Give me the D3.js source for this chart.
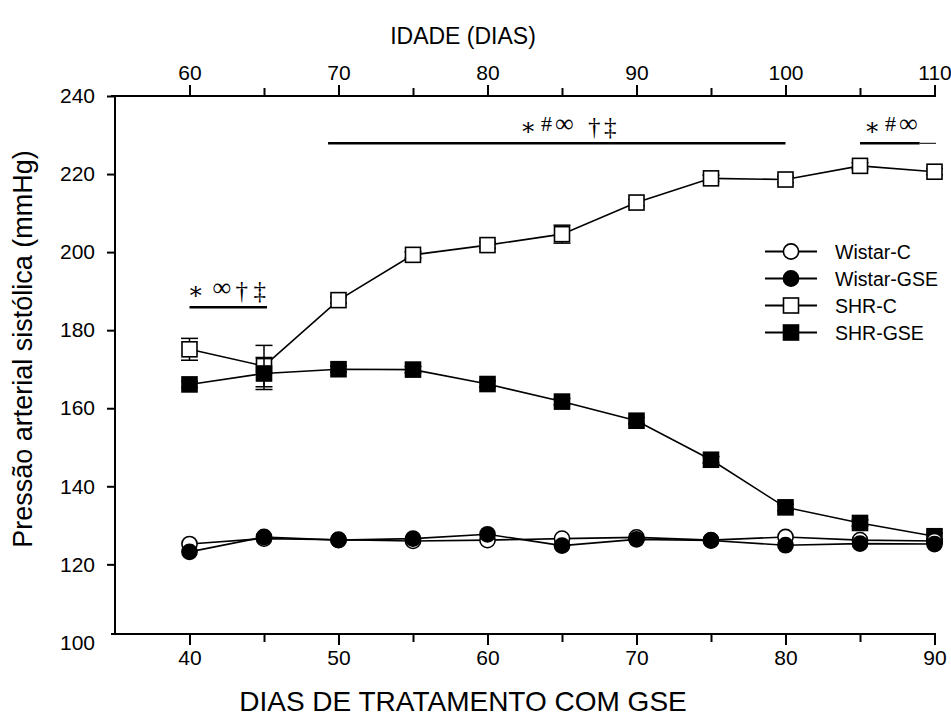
<!DOCTYPE html>
<html>
<head>
<meta charset="utf-8">
<script src="https://cdn.jsdelivr.net/npm/d3@7"></script>
<style>
  body { margin: 0; background: #fff; }
  svg { display: block; font-family: "Liberation Sans", Arial, sans-serif; }
  .tick text { font-size: 21px; fill: #000; }
  .tick line { stroke: #000; stroke-width: 2; }
  .sig { font-family: "Liberation Serif", "DejaVu Serif", serif; font-size: 24px; }
</style>
</head>
<body>
<svg id="chart" width="951" height="716"></svg>
<script>
// Data
const days = [40, 45, 50, 55, 60, 65, 70, 75, 80, 85, 90];
const wistarC   = [125.2, 126.6, 126.3, 126.0, 126.2, 126.6, 126.9, 126.2, 127.0, 126.2, 126.0];
const wistarGSE = [123.2, 127.0, 126.2, 126.6, 127.7, 124.8, 126.4, 126.1, 124.9, 125.3, 125.2];
const shrC      = [175.1, 170.8, 187.7, 199.3, 201.8, 204.6, 212.7, 218.9, 218.6, 222.1, 220.6];
const shrCErr   = [2.8, 5.3, 0.8, 0.8, 0.8, 2.3, 0.8, 0.8, 0.8, 0.8, 0.8];
const shrGSE    = [166.1, 168.9, 170.0, 169.9, 166.2, 161.7, 156.8, 146.8, 134.6, 130.6, 127.2];
const shrGSEErr = [0.8, 4.1, 0.8, 0.8, 0.8, 0.8, 0.8, 0.8, 0.8, 0.8, 0.8];

const bottomTicks = [40, 50, 60, 70, 80, 90];
const bottomMinor = [45, 55, 65, 75, 85];
const topTicks = [60, 70, 80, 90, 100, 110];
const topMinor = [65, 75, 85, 95, 105];
const yTicks = [100, 120, 140, 160, 180, 200, 220, 240];

const seriesNames = ["Wistar-C", "Wistar-GSE", "SHR-C", "SHR-GSE"];

// significance bars: start day, end day, symbols
const sigStart = [40, 49.3, 85];
const sigEnd = [45.2, 80, 89];
const sigSymbols = [["∗", "∞", "†", "‡"], ["∗", "#", "∞", "†", "‡"], ["∗", "#", "∞"]];

const svg = d3.select("#chart");

const x = d3.scaleLinear().domain([40, 90]).range([189.5, 934.5]);
const xTop = d3.scaleLinear().domain([60, 110]).range([189.5, 934.5]);
const y = d3.scaleLinear().domain([100, 240]).range([642.4, 96]);

const axisLeftX = 115, axisBottomY = 634, axisTopY = 96;

// axis lines
svg.append("line").attr("x1", axisLeftX).attr("x2", axisLeftX)
  .attr("y1", axisTopY).attr("y2", axisBottomY + 1)
  .attr("stroke", "#000").attr("stroke-width", 2);
svg.append("line").attr("x1", 111).attr("x2", 936)
  .attr("y1", axisBottomY).attr("y2", axisBottomY)
  .attr("stroke", "#000").attr("stroke-width", 2.2);
svg.append("line").attr("x1", 111).attr("x2", 936)
  .attr("y1", axisTopY).attr("y2", axisTopY)
  .attr("stroke", "#000").attr("stroke-width", 2.2);

// bottom axis
svg.append("g").attr("transform", `translate(0,${axisBottomY})`)
  .call(d3.axisBottom(x).tickValues(bottomTicks).tickSize(11).tickPadding(5));
svg.append("g").attr("transform", `translate(0,${axisBottomY})`)
  .call(d3.axisBottom(x).tickValues(bottomMinor).tickSize(8).tickFormat(""));

// top axis
svg.append("g").attr("transform", `translate(0,${axisTopY})`)
  .call(d3.axisTop(xTop).tickValues(topTicks).tickSize(11).tickPadding(5));
svg.append("g").attr("transform", `translate(0,${axisTopY})`)
  .call(d3.axisTop(xTop).tickValues(topMinor).tickSize(8).tickFormat(""));

// left axis
const gl = svg.append("g").attr("transform", `translate(${axisLeftX},0)`)
  .call(d3.axisLeft(y).tickValues(yTicks).tickSize(8).tickPadding(12));
gl.selectAll(".tick").filter(d => d === 100).select("line").remove();

svg.selectAll(".domain").remove();
svg.selectAll(".tick text").attr("font-family", null).attr("font-size", null);

// titles
svg.append("text").attr("x", 463).attr("y", 44).attr("text-anchor", "middle")
  .attr("font-size", 23).text("IDADE (DIAS)");
svg.append("text").attr("x", 463).attr("y", 711).attr("text-anchor", "middle")
  .attr("font-size", 28).text("DIAS DE TRATAMENTO COM GSE");
svg.append("text").attr("transform", "translate(32,349) rotate(-90)")
  .attr("text-anchor", "middle").attr("font-size", 27)
  .text("Pressão arterial sistólica (mmHg)");

// lines
const line = d3.line().x((d, i) => x(days[i])).y(d => y(d));
const allSeries = [
  { name: "SHR-C", vals: shrC, err: shrCErr, shape: "square", fill: "#fff" },
  { name: "SHR-GSE", vals: shrGSE, err: shrGSEErr, shape: "square", fill: "#000" },
  { name: "Wistar-C", vals: wistarC, err: null, shape: "circle", fill: "#fff" },
  { name: "Wistar-GSE", vals: wistarGSE, err: null, shape: "circle", fill: "#000" }
];

allSeries.forEach(s => {
  svg.append("path").datum(s.vals).attr("d", line)
    .attr("fill", "none").attr("stroke", "#000").attr("stroke-width", 1.6);
});

function drawMarker(g, shape, fill, cx, cy) {
  if (shape === "square") {
    g.append("rect").attr("x", cx - 7.5).attr("y", cy - 7.5)
      .attr("width", 15).attr("height", 15)
      .attr("fill", fill).attr("stroke", "#000").attr("stroke-width", 1.6);
  } else {
    g.append("circle").attr("cx", cx).attr("cy", cy).attr("r", 7.6)
      .attr("fill", fill).attr("stroke", "#000").attr("stroke-width", 1.6);
  }
}

allSeries.forEach(s => {
  const g = svg.append("g");
  s.vals.forEach((v, i) => {
    const cx = x(days[i]);
    if (s.err) {
      const e = s.err[i];
      g.append("line").attr("x1", cx).attr("x2", cx)
        .attr("y1", y(v + e)).attr("y2", y(v - e))
        .attr("stroke", "#000").attr("stroke-width", 1.5);
      [v + e, v - e].forEach(ev => {
        g.append("line").attr("x1", cx - 8.5).attr("x2", cx + 8.5)
          .attr("y1", y(ev)).attr("y2", y(ev))
          .attr("stroke", "#000").attr("stroke-width", 1.5);
      });
    }
    drawMarker(g, s.shape, s.fill, cx, y(v));
  });
});

// significance bars
const sigBarY = [307.3, 143.3, 143.3];
const glyphOffset = { "∗": 0, "#": 21, "∞": 35, "†": 68, "‡": 84 };
const glyphOffsetFirst = { "∗": 0, "∞": 25, "†": 48, "‡": 66 };
const glyphRaise = { "∗": 0, "#": -4, "∞": -3, "†": 0, "‡": 0 };
const glyphSize = { "∗": 24, "#": 22, "∞": 26, "†": 25, "‡": 25 };
sigSymbols.forEach((syms, i) => {
  const yb = sigBarY[i];
  const x0 = x(sigStart[i]), x1 = x(sigEnd[i]);
  svg.append("line").attr("x1", x0).attr("x2", x1)
    .attr("y1", yb).attr("y2", yb).attr("stroke", "#000").attr("stroke-width", 2.4);
  const tx = i === 0 ? x0 - 2 : (i === 1 ? 520 : 864);
  const offs = i === 0 ? glyphOffsetFirst : glyphOffset;
  const t = svg.append("text").attr("class", "sig").attr("y", yb - 8.5);
  syms.forEach(sym => {
    t.append("tspan").attr("x", tx + offs[sym]).attr("y", yb - 8.5 + glyphRaise[sym])
      .attr("font-size", glyphSize[sym]).text(sym);
  });
});
svg.append("line").attr("x1", x(89)).attr("x2", x(90.1))
  .attr("y1", 143.3).attr("y2", 143.3).attr("stroke", "#000").attr("stroke-width", 1);

// legend
const legendShapes = ["circle", "circle", "square", "square"];
const legendFills = ["#fff", "#000", "#fff", "#000"];
const lg = svg.append("g").attr("transform", "translate(765,251.5)");
seriesNames.forEach((name, i) => {
  const ly = i * 27;
  lg.append("line").attr("x1", 0).attr("x2", 52).attr("y1", ly).attr("y2", ly)
    .attr("stroke", "#000").attr("stroke-width", 2);
  drawMarker(lg, legendShapes[i], legendFills[i], 26, ly);
  lg.append("text").attr("x", 70).attr("y", ly + 7).attr("font-size", 19.5).text(name);
});
</script>
</body>
</html>
